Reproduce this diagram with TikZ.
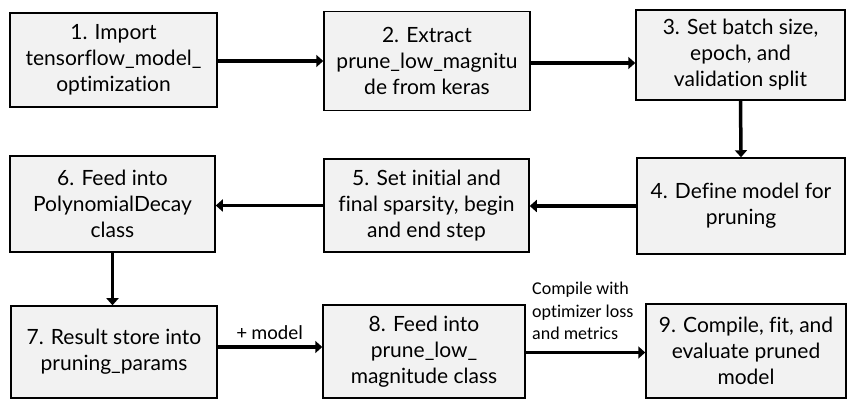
\documentclass[tikz,border=0pt]{standalone}
\usepackage{fontspec}
\setmainfont{Lato}[Ligatures={NoCommon,NoRare}]
\newfontfamily\labelfont{Carlito}[Ligatures={NoCommon}]
\usetikzlibrary{arrows.meta}
\begin{document}
\begin{tikzpicture}[x=1pt,y=1pt,
  stepbox/.style={draw=black, line width=1.5pt, fill=black!5, inner sep=0pt,
    align=center, font=\fontsize{21}{26}\selectfont},
  arr/.style={line width=3.5pt, -{Triangle[length=7pt,width=12pt]}},
  lbl/.style={font=\labelfont\fontsize{18}{22.5}\selectfont, inner sep=0pt}]
\useasboundingbox (0,0) rectangle (848,401);
% first row (left to right)
\node[stepbox, minimum width=207pt, minimum height=94pt] (b1) at (113.5,341) {1. Import\\tensorflow\_model\_\\optimization};
\node[stepbox, minimum width=206pt, minimum height=99pt] (b2) at (427,340) {2. Extract\\prune\_low\_magnitu\\de from keras};
\node[stepbox, minimum width=209pt, minimum height=90pt] (b3) at (740.5,346) {3. Set batch size,\\epoch, and\\validation split};
% second row (right to left)
\node[stepbox, minimum width=208pt, minimum height=96pt] (b4) at (741,195) {4. Define model for\\pruning};
\node[stepbox, minimum width=205pt, minimum height=93pt] (b5) at (426.5,195.5) {5. Set initial and\\final sparsity, begin\\and end step};
\node[stepbox, minimum width=205pt, minimum height=96pt] (b6) at (112.5,197) {6. Feed into\\PolynomialDecay\\class};
% third row (left to right)
\node[stepbox, minimum width=206pt, minimum height=92pt] (b7) at (114,49) {7. Result store into\\pruning\_params};
\node[stepbox, minimum width=202pt, minimum height=93pt] (b8) at (424,49.5) {8. Feed into\\prune\_low\_\\magnitude class};
\node[stepbox, minimum width=200pt, minimum height=94pt] (b9) at (746,50) {9. Compile, fit, and\\evaluate pruned\\model};
% connectors
\draw[arr] ([yshift=-1pt]b1.east) -- ([yshift=-1pt]b1.east -| b2.west);
\draw[arr] ([yshift=-2pt]b2.east) -- ([yshift=-2pt]b2.east -| b3.west);
\draw[arr] (b3.south) -- (b4.north);
\draw[arr] (b4.west) -- (b4.west -| b5.east);
\draw[arr] (b5.west) -- (b5.west -| b6.east);
\draw[arr] (b6.south) -- (b6.south |- b7.north);
\draw[arr] ([yshift=5pt]b7.east) -- ([yshift=5pt]b7.east -| b8.west)
  node[midway, above=6pt, font=\labelfont\fontsize{20}{24}\selectfont, inner sep=0pt] (m) {+ model};
\draw[arr] ([yshift=-1pt]b8.east) -- ([yshift=-1pt]b8.east -| b9.west);
\node[lbl, align=left, anchor=north west] (c) at (532,119) {Compile with\\optimizer loss\\and metrics};
\end{tikzpicture}
\end{document}
